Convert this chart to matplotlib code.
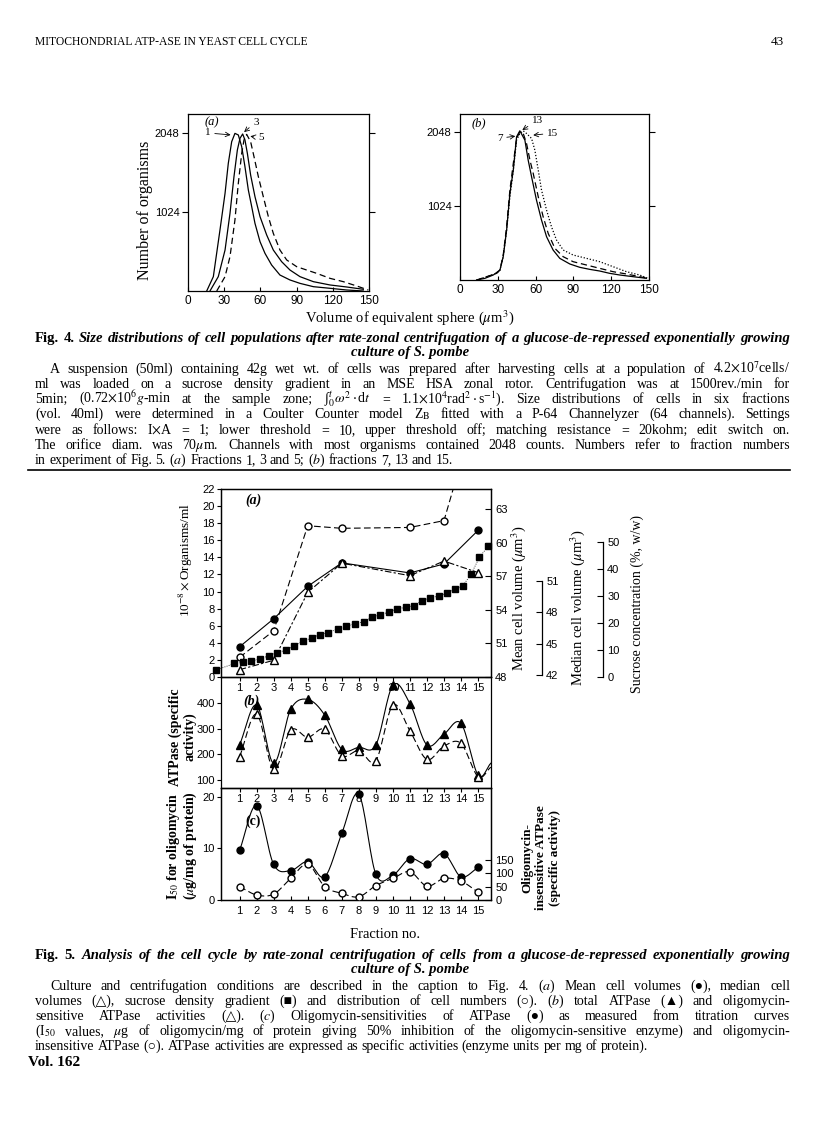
import numpy as np
import matplotlib
matplotlib.use("Agg")
import matplotlib.pyplot as plt
from matplotlib.lines import Line2D

plt.rcParams['font.family'] = ['Liberation Serif', 'DejaVu Serif']
plt.rcParams['mathtext.fontset'] = 'stix'

W, H = 816, 1136
TICKFONT = ['Liberation Sans Narrow', 'Liberation Sans']

# ---------------- Fig. 4 data: size distributions ----------------
# (a) fractions 1, 3, 5
a1_x = [15.5, 21.0, 26.5, 30.7, 33.4, 36.2, 38.9, 41.7, 44.5, 47.2, 50.0, 52.8, 55.5, 59.7, 63.8, 69.3, 76.2, 84.5, 92.8, 103.9, 117.7, 131.5, 145.3]
a1_y = [0, 186, 791, 1266, 1655, 1935, 2043, 2022, 1871, 1611, 1309, 1093, 877, 639, 488, 337, 207, 143, 99, 56, 35, 13, 0]
a3_x = [18.2, 25.1, 30.7, 34.8, 38.1, 40.9, 43.1, 45.3, 47.2, 49.2, 51.9, 55.5, 59.7, 65.2, 70.7, 77.6, 84.5, 92.8, 103.9, 117.7, 131.5, 145.3]
a3_y = [0, 186, 531, 1007, 1482, 1827, 1979, 2035, 1957, 1784, 1503, 1223, 963, 726, 531, 380, 272, 186, 121, 78, 52, 22]
a5_x = [23.8, 30.7, 34.8, 38.9, 41.7, 44.5, 46.4, 48.6, 51.9, 54.7, 58.3, 62.4, 66.6, 70.7, 76.2, 81.8, 90.1, 98.3, 106.6, 117.7, 128.7, 139.8, 149.4]
a5_y = [0, 186, 445, 920, 1395, 1784, 1957, 2030, 1935, 1741, 1482, 1223, 963, 747, 531, 402, 315, 272, 229, 164, 121, 65, 13]
# (b) fractions 7, 13, 15
b7_x = [13.2, 19.8, 26.4, 31.7, 34.3, 37.0, 39.6, 42.3, 44.9, 47.5, 51.5, 54.1, 56.8, 60.7, 64.7, 68.7, 73.9, 79.2, 87.2, 95.1, 103.0, 110.9, 118.8, 126.8, 137.3, 147.9]
b7_y = [0, 23, 69, 138, 322, 690, 1197, 1519, 1979, 2062, 1933, 1657, 1427, 1104, 828, 598, 414, 299, 221, 175, 147, 124, 92, 69, 46, 23]
b13_x = [13.2, 21.1, 29.1, 31.7, 34.3, 37.0, 39.6, 42.3, 44.9, 47.5, 50.2, 52.8, 55.5, 58.1, 62.1, 66.0, 70.0, 75.3, 81.9, 89.8, 100.4, 110.9, 121.5, 132.1, 142.6, 149.2]
b13_y = [0, 46, 92, 138, 345, 736, 1243, 1611, 1956, 2048, 2025, 1887, 1657, 1473, 1150, 874, 644, 437, 322, 253, 207, 161, 115, 83, 46, 23]
b15_x = [13.2, 21.1, 29.1, 31.7, 34.3, 37.0, 39.6, 42.3, 44.9, 47.5, 50.2, 52.8, 56.8, 59.4, 62.1, 64.7, 68.7, 72.6, 76.6, 81.9, 89.8, 100.4, 110.9, 121.5, 132.1, 142.6, 149.2]
b15_y = [0, 46, 92, 138, 322, 690, 1150, 1519, 1933, 2025, 2062, 2025, 1956, 1795, 1519, 1243, 966, 736, 552, 414, 345, 299, 253, 184, 115, 69, 23]
vol_ticks = [0, 30, 60, 90, 120, 150]
count_ticks = [1024, 2048]

# ---------------- Fig. 5 data ----------------
fractions = list(range(1, 16))
labelled = [1, 3, 5, 7, 11, 13, 15]
cell_number = [2.3, 5.4, 17.7, 17.4, 17.5, 18.3, 32.0]      # 10^-8 organisms/ml
mean_volume = [50.7, 53.2, 56.1, 58.2, 57.3, 58.1, 61.1]     # um3
median_volume = [42.5, 43.4, 49.9, 52.7, 51.5, 52.9, 51.8]   # um3
sucrose_x = [-0.37, 0.7, 1.2, 1.69, 2.18, 2.7, 3.2, 3.75, 4.2, 4.7, 5.25, 5.7, 6.2, 6.8, 7.27, 7.76,
             8.3, 8.8, 9.27, 9.76, 10.25, 10.75, 11.24, 11.7, 12.2, 12.7, 13.16, 13.65, 14.1, 14.6, 15.08, 15.6]
sucrose = [2.6, 5.0, 5.4, 5.9, 6.7, 7.8, 9.0, 10.0, 11.6, 13.2, 14.5, 15.7, 16.4, 17.9, 18.9, 19.6,
           20.5, 22.2, 23.0, 24.1, 25.2, 25.8, 26.4, 28.2, 29.3, 30.0, 31.0, 32.5, 33.7, 38.2, 44.3, 48.5]
total_atpase = [236, 391, 165, 374, 413, 352, 219, 227, 236, 468, 397, 236, 278, 320, 119]
sens_atpase = [190, 356, 141, 294, 266, 297, 194, 214, 175, 391, 291, 180, 232, 242, 113]
atpase_tail_x = [15.75]
total_tail = [165]
sens_tail = [150]
i50 = [9.6, 18.3, 6.9, 5.7, 7.4, 4.5, 12.9, 20.5, 5.0, 4.8, 8.0, 6.9, 9.0, 4.5, 6.3]
insens_atpase = [50, 19, 22, 81, 134, 50, 25, 12, 54, 81, 106, 52, 81, 71, 29]


def smooth(x, y, n=16):
    x = np.asarray(x, float)
    y = np.asarray(y, float)
    xs = np.r_[2 * x[0] - x[1], x, 2 * x[-1] - x[-2]]
    ys = np.r_[2 * y[0] - y[1], y, 2 * y[-1] - y[-2]]
    t = np.linspace(0, 1, n, endpoint=False)
    ox, oy = [], []
    for i in range(1, len(xs) - 2):
        for arr, out in ((xs, ox), (ys, oy)):
            p0, p1, p2, p3 = arr[i - 1], arr[i], arr[i + 1], arr[i + 2]
            out.extend(0.5 * (2 * p1 + (-p0 + p2) * t + (2 * p0 - 5 * p1 + 4 * p2 - p3) * t ** 2
                              + (-p0 + 3 * p1 - 3 * p2 + p3) * t ** 3))
    ox.append(x[-1])
    oy.append(y[-1])
    return ox, oy


def box(l, t, r, b):
    return [l / W, 1 - b / H, (r - l) / W, (b - t) / H]


def ftext(px, py, s, **kw):
    kw.setdefault('va', 'center')
    kw.setdefault('ha', 'center')
    return fig.text(px / W, 1 - py / H, s, **kw)


fig = plt.figure(figsize=(W / 100, H / 100), dpi=100)
fig.patch.set_facecolor('white')

# ---------------- page header ----------------
ftext(35, 42, 'MITOCHONDRIAL ATP-ASE IN YEAST CELL CYCLE', ha='left', fontsize=8.4)
ftext(784, 42, '43', ha='right', fontsize=9.5)

# ---------------- Fig. 4 ----------------
lw = 0.9
ax4a = fig.add_axes(box(188, 114, 369, 291))
ax4a.plot(a1_x, a1_y, 'k-', lw=lw)
ax4a.plot(a3_x, a3_y, 'k-', lw=lw)
ax4a.plot(a5_x, a5_y, 'k', lw=lw, ls=(0, (5, 3)))
ax4a.text(0.094, 0.955, '(a)', transform=ax4a.transAxes, fontsize=9, style='italic', va='center')
arr = dict(arrowstyle='->', lw=0.6, color='k', shrinkA=1, shrinkB=1)
ax4a.annotate('1', xy=(36.5, 2022), xytext=(14.1, 2048), fontsize=8, va='center', arrowprops=arr)
ax4a.annotate('3', xy=(45.6, 2048), xytext=(53.9, 2190), fontsize=8, va='center', arrowprops=arr)
ax4a.annotate('5', xy=(50.5, 2009), xytext=(58, 1983), fontsize=8, va='center', arrowprops=arr)

ax4b = fig.add_axes(box(460, 114, 649, 280))
ax4b.plot(b7_x, b7_y, 'k-', lw=lw)
ax4b.plot(b13_x, b13_y, 'k', lw=lw, ls=(0, (5, 3)))
ax4b.plot(b15_x, b15_y, 'k', lw=lw, ls=(0, (1, 1.5)))
ax4b.text(0.063, 0.946, '(b)', transform=ax4b.transAxes, fontsize=9, style='italic', va='center')
ax4b.annotate('7', xy=(45, 1990), xytext=(29.4, 1960), fontsize=8, va='center', arrowprops=arr)
ax4b.annotate('13', xy=(48.5, 2062), xytext=(57, 2208), fontsize=8, va='center', arrowprops=arr)
ax4b.annotate('15', xy=(57, 2000), xytext=(69, 2029), fontsize=8, va='center', arrowprops=arr)

for ax in (ax4a, ax4b):
    ax.set_xlim(0, 150)
    ax.set_ylim(0, 2294)
    ax.set_xticks(vol_ticks)
    ax.set_yticks(count_ticks)
    ax.tick_params(axis='x', direction='in', length=3, labelsize=8.5, pad=3, labelfontfamily=TICKFONT)
    ax.tick_params(axis='y', direction='out', length=4, labelsize=8, pad=2, right=True,
                   labelfontfamily=TICKFONT)
    for sp in ax.spines.values():
        sp.set_linewidth(0.9)

ftext(145, 210, 'Number of organisms', rotation=90, fontsize=11.5)
ftext(410, 318, r'Volume of equivalent sphere ($\mu$m$^3$)', fontsize=10.5)


def justified(line, py, x0=35, x1=790, justify=True, nfirst=0, first_kw=None, **kw):
    words = line.split(' ')
    texts = []
    for i, w in enumerate(words):
        k = dict(kw)
        if i < nfirst and first_kw:
            k.update(first_kw)
        texts.append(fig.text(0, 1 - (py + 4) / H, w, va='baseline', ha='left', **k))
    r = fig.canvas.get_renderer()
    widths = [t.get_window_extent(r).width for t in texts]
    fs = kw.get('fontsize', 10)
    gap = fs * 0.25 * 100 / 72
    if justify and len(words) > 1:
        gap = (x1 - x0 - sum(widths)) / (len(words) - 1)
    x = x0
    for t, w in zip(texts, widths):
        t.set_x(x / W)
        x += w + gap


cap_kw = dict(fontsize=10.5, style='italic', weight='bold')
first = dict(style='normal')
justified('Fig. 4. Size distributions of cell populations after rate-zonal centrifugation of a glucose-de-repressed exponentially growing',
          338, nfirst=2, first_kw=first, **cap_kw)
ftext(410, 353, 'culture of S. pombe', fontsize=10.5, style='italic', weight='bold')

body = dict(fontsize=10)
fig4_lines = [
    'A suspension (50ml) containing 42g wet wt. of cells was prepared after harvesting cells at a population of 4.2$\\times$10$^{7}$cells/',
    'ml was loaded on a sucrose density gradient in an MSE HSA zonal rotor. Centrifugation was at 1500rev./min for',
    '5min; (0.72$\\times$10$^{6}$$g$-min at the sample zone; \u222b$_{0}^{t}\\omega^{2}\\cdot$d$t$ = 1.1$\\times$10$^{4}$rad$^{2}\\cdot$s$^{-1}$). Size distributions of cells in six fractions',
    '(vol. 40ml) were determined in a Coulter Counter model Z$_\\mathrm{B}$ fitted with a P-64 Channelyzer (64 channels). Settings',
    'were as follows: I$\\times$A = 1; lower threshold = 10, upper threshold off; matching resistance = 20kohm; edit switch on.',
    'The orifice diam. was 70$\\mu$m. Channels with most organisms contained 2048 counts. Numbers refer to fraction numbers',
    'in experiment of Fig. 5. ($a$) Fractions 1, 3 and 5; ($b$) fractions 7, 13 and 15.',
]
for i, (ln, py) in enumerate(zip(fig4_lines, [369, 384, 399, 414, 430, 445, 460])):
    justified(ln, py, x0=50 if i == 0 else 35, justify=(i < len(fig4_lines) - 1), **body)

fig.add_artist(Line2D([28 / W, 790 / W], [1 - 470 / H] * 2, color='k', lw=1.2))

# ---------------- Fig. 5 ----------------
XL = (-0.09, 15.76)
tick_kw = dict(labelsize=8, labelfontfamily=TICKFONT)
pa = fig.add_axes(box(221, 489, 491, 677))
pa.set_facecolor('none')
pa.plot(labelled, cell_number, 'k', lw=0.8, ls=(0, (6, 3)), marker='o', mfc='white', mec='k', ms=5, zorder=3)
pa.set_xlim(*XL)
pa.set_ylim(0, 22)
pa.set_yticks(range(0, 23, 2))
pa.set_xticks(fractions)
pa.tick_params(axis='x', direction='out', length=3, pad=1, **tick_kw)
pa.tick_params(axis='y', direction='out', length=3, pad=1.5, **tick_kw)
pa.text(0.089, 0.94, '(a)', transform=pa.transAxes, fontsize=10, weight='bold', style='italic', va='center')

pm = pa.twinx()
pm.plot(labelled, mean_volume, 'k-', lw=0.8, marker='o', ms=5, zorder=3)
pm.set_ylim(48, 64.8)
pm.set_yticks(range(48, 64, 3))
pm.tick_params(axis='y', direction='in', length=4, pad=3, **tick_kw)

pmed = pa.twinx()
pmed.plot(labelled, median_volume, 'k', lw=0.8, ls=(0, (6, 2, 2, 2)), marker='^', mfc='white', mec='k', ms=5.5, zorder=3)
pmed.set_ylim(41.8, 59.8)
pmed.spines['right'].set_position(('axes', (542 - 221) / 270))
pmed.spines['right'].set_bounds(42, 51)
pmed.set_yticks([42, 45, 48, 51])
for s in ('top', 'bottom', 'left'):
    pmed.spines[s].set_visible(False)
pmed.tick_params(axis='y', direction='in', length=4, pad=3, **tick_kw)

psuc = pa.twinx()
psuc.plot(sucrose_x, sucrose, 'k', lw=0.6, ls=':', marker='s', ms=4.5, clip_on=False, zorder=3)
psuc.set_ylim(0, 69.6)
psuc.spines['right'].set_position(('axes', (603 - 221) / 270))
psuc.spines['right'].set_bounds(0, 50)
psuc.set_yticks(range(0, 51, 10))
for s in ('top', 'bottom', 'left'):
    psuc.spines[s].set_visible(False)
psuc.tick_params(axis='y', direction='in', length=4, pad=3, **tick_kw)
for ax in (pm, pmed, psuc):
    ax.set_facecolor('none')
    ax.set_xlim(*XL)

pb = fig.add_axes(box(221, 677, 491, 788))
pb.set_facecolor('none')
tx, ty = smooth(fractions + atpase_tail_x, total_atpase + total_tail)
pb.plot(tx, ty, 'k-', lw=0.8)
sx, sy = smooth(fractions + atpase_tail_x, sens_atpase + sens_tail)
pb.plot(sx, sy, 'k', lw=0.8, ls=(0, (6, 3)))
pb.plot(fractions, total_atpase, 'k^', ms=5.5, zorder=3)
pb.plot(fractions, sens_atpase, '^', mfc='white', mec='k', ms=5.5, zorder=3)
pb.set_xlim(*XL)
pb.set_ylim(69, 500)
pb.set_yticks([100, 200, 300, 400])
pb.set_xticks(fractions)
pb.tick_params(axis='x', direction='out', length=3, pad=1, **tick_kw)
pb.tick_params(axis='y', direction='out', length=3, pad=1.5, **tick_kw)
pb.text(0.081, 0.78, '(b)', transform=pb.transAxes, fontsize=10, weight='bold', style='italic', va='center')

pc = fig.add_axes(box(221, 788, 491, 900))
pc.set_facecolor('none')
cx, cy = smooth(fractions, i50)
pc.plot(cx, cy, 'k-', lw=0.8)
pc.plot(fractions, i50, 'ko', ms=5, zorder=3)
pc.set_xlim(*XL)
pc.set_ylim(0, 21.7)
pc.set_yticks([0, 10, 20])
pc.set_xticks(fractions)
pc.tick_params(axis='x', direction='in', length=3, pad=4, **tick_kw)
pc.tick_params(axis='y', direction='out', length=3, pad=1.5, **tick_kw)
pc.text(0.089, 0.70, '(c)', transform=pc.transAxes, fontsize=10, weight='bold', va='center')

pcr = pc.twinx()
pcr.set_facecolor('none')
ox, oy = smooth(fractions, insens_atpase)
pcr.plot(ox, oy, 'k', lw=0.8, ls=(0, (6, 3)))
pcr.plot(fractions, insens_atpase, 'o', mfc='white', mec='k', ms=5, zorder=3)
pcr.set_ylim(0, 420)
pcr.set_xlim(*XL)
pcr.set_yticks([0, 50, 100, 150])
pcr.tick_params(axis='y', direction='in', length=4, pad=3, **tick_kw)

for ax in (pa, pm, pmed, psuc, pb, pc, pcr):
    for sp in ax.spines.values():
        sp.set_linewidth(0.9)

# axis titles
ftext(186, 560, r'10$^{-8}\times$Organisms/ml', rotation=90, fontsize=9.5)
ftext(175, 737, 'ATPase (specific', rotation=90, fontsize=10, weight='bold')
ftext(190, 737, 'activity)', rotation=90, fontsize=10, weight='bold')
ftext(174, 846, r'I$_{50}$ for oligomycin', rotation=90, fontsize=10, weight='bold')
ftext(190, 846, r'($\mu$g/mg of protein)', rotation=90, fontsize=10, weight='bold')
ftext(519, 598, r'Mean cell volume ($\mu$m$^3$)', rotation=90, fontsize=10.5)
ftext(578, 608, r'Median cell volume ($\mu$m$^3$)', rotation=90, fontsize=10.5)
ftext(637, 604, 'Sucrose concentration (%, w/w)', rotation=90, fontsize=10)
ftext(527, 858, 'Oligomycin-', rotation=90, fontsize=9.5, weight='bold')
ftext(541, 858, 'insensitive ATPase', rotation=90, fontsize=9.5, weight='bold')
ftext(555, 858, '(specific activity)', rotation=90, fontsize=9.5, weight='bold')
ftext(385, 935, 'Fraction no.', fontsize=10.5)

justified('Fig. 5. Analysis of the cell cycle by rate-zonal centrifugation of cells from a glucose-de-repressed exponentially growing',
          955, nfirst=2, first_kw=first, **cap_kw)
ftext(410, 970, 'culture of S. pombe', fontsize=10.5, style='italic', weight='bold')

fig5_lines = [
    'Culture and centrifugation conditions are described in the caption to Fig. 4. ($a$) Mean cell volumes (\u25cf), median cell',
    'volumes (\u25b3), sucrose density gradient (\u25a0) and distribution of cell numbers (\u25cb). ($b$) total ATPase (\u25b2) and oligomycin-',
    'sensitive ATPase activities (\u25b3). ($c$) Oligomycin-sensitivities of ATPase (\u25cf) as measured from titration curves',
    '(I$_{50}$ values, $\\mu$g of oligomycin/mg of protein giving 50% inhibition of the oligomycin-sensitive enzyme) and oligomycin-',
    'insensitive ATPase (\u25cb). ATPase activities are expressed as specific activities (enzyme units per mg of protein).',
]
for i, (ln, py) in enumerate(zip(fig5_lines, [986, 1001, 1016, 1031, 1046])):
    justified(ln, py, x0=50 if i == 0 else 35, justify=(i < len(fig5_lines) - 1), **body)

ftext(28, 1063, 'Vol. 162', ha='left', fontsize=11, weight='bold')

fig.savefig('out.png', dpi=100)
